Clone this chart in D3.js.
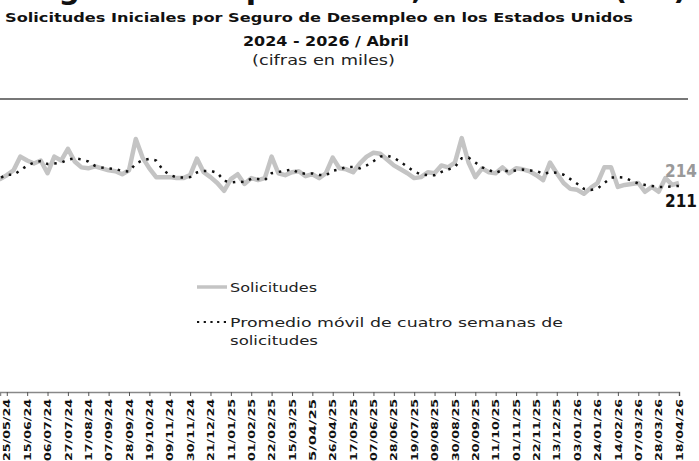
<!DOCTYPE html>
<html>
<head>
<meta charset="utf-8">
<style>
  body { margin: 0; background: #fff; }
  svg { display: block; }
  text { font-family: "DejaVu Sans", sans-serif; }
</style>
</head>
<body>
<svg width="699" height="461"></svg>
<script src="https://d3js.org/d3.v7.min.js"></script>
<script>

    // semanas: la primera es 11/05/24, una por semana
    var primeraSemana = "11/05/24";

    var solicitudes = [222, 218, 222, 227, 241, 237, 234, 237, 224, 241,
        237, 249, 236, 230, 229, 231, 229, 227, 226, 223,
        227, 259, 240, 229, 220, 220, 220, 219, 219, 222,
        239, 225, 220, 214, 206, 218, 223, 213, 219, 217,
        219, 241, 224, 222, 225, 226, 221, 223, 219, 224,
        240, 229, 228, 225, 234, 241, 245, 244, 238, 232,
        228, 224, 219, 220, 225, 224, 232, 230, 235, 260,
        235, 220, 229, 225, 224, 230, 224, 229, 228, 226,
        222, 217, 235, 224, 214, 208, 207, 203, 209, 214,
        230, 230, 210, 212, 213, 214, 205, 210, 205, 219,
        212, 214];

    var promedio = [217, 219, 222.5, 222.3, 227, 231.8, 234.8, 236.5, 233.5, 234,
        234.8, 237.8, 239.5, 238, 236, 231.5, 229.8, 229, 228.3, 226.3,
        225.8, 233.8, 237.3, 238.8, 237, 227.3, 222.3, 219.8, 219.5, 220,
        224.8, 226.3, 226.5, 224.5, 216.3, 214.5, 215.3, 215, 218.3, 218,
        217, 224, 225.3, 226.5, 228, 224.3, 223.5, 223.8, 222.3, 221.8,
        226.5, 228, 230.3, 230.5, 229, 232, 236.3, 241, 242, 239.8,
        235.5, 230.5, 225.8, 222.8, 222, 222, 225.3, 227.8, 230.3, 239.3,
        240, 235, 230, 227.3, 224.5, 227, 225.8, 226.8, 227.8, 226.8,
        226.3, 223.3, 225, 224.5, 222.5, 218, 213.3, 208, 206.8, 208.3,
        214, 219.5, 220, 219.5, 216.3, 213.5, 212, 211, 210, 210,
        210.5, 211];

    var etiquetas = ["25/05/24", "15/06/24", "06/07/24", "27/07/24", "17/08/24", "07/09/24",
        "28/09/24", "19/10/24", "09/11/24", "30/11/24", "21/12/24", "11/01/25",
        "01/02/25", "22/02/25", "15/03/25", "5/04/25", "26/04/25", "17/05/25",
        "07/06/25", "28/06/25", "19/07/25", "09/08/25", "30/08/25", "20/09/25",
        "11/10/25", "01/11/25", "22/11/25", "13/12/25", "03/01/26", "24/01/26",
        "14/02/26", "07/03/26", "28/03/26", "18/04/26"];

    var svg = d3.select("svg");
    var parseDate = d3.timeParse("%d/%m/%y");

    var inicio = parseDate(primeraSemana);
    var data = solicitudes.map(function(v, i) {
        return {date: d3.timeDay.offset(inicio, 7 * i), sol: v, prom: promedio[i]};
    });

    var x = d3.scaleTime()
        .domain([parseDate("18/05/24"), parseDate("18/04/26")])
        .range([0, 679]);

    var y = d3.scaleLinear()
        .domain([0, 300])
        .range([392, 99]);

    // titulo grande (cortado arriba, solo asoman los rasgos descendentes)
    svg.append("text")
        .attr("x", 27).attr("y", -1)
        .attr("font-size", 30).attr("font-weight", "bold")
        .attr("textLength", 660).attr("lengthAdjust", "spacing")
        .attr("fill", "#111")
        .text("Seguro de Desempleo Semanal, Estados Unidos (EUA)");

    svg.append("text")
        .attr("x", 5).attr("y", 22)
        .attr("font-size", 13).attr("font-weight", "bold")
        .attr("textLength", 628).attr("lengthAdjust", "spacingAndGlyphs")
        .attr("fill", "#111")
        .text("Solicitudes Iniciales por Seguro de Desempleo en los Estados Unidos");

    svg.append("text")
        .attr("x", 243).attr("y", 46)
        .attr("font-size", 14).attr("font-weight", "bold")
        .attr("textLength", 166).attr("lengthAdjust", "spacingAndGlyphs")
        .attr("fill", "#111")
        .text("2024 - 2026 / Abril");

    svg.append("text")
        .attr("x", 252).attr("y", 65)
        .attr("font-size", 14)
        .attr("textLength", 143).attr("lengthAdjust", "spacingAndGlyphs")
        .attr("fill", "#222")
        .text("(cifras en miles)");

    // linea superior
    svg.append("line")
        .attr("x1", 0).attr("x2", 688)
        .attr("y1", y(300)).attr("y2", y(300))
        .attr("stroke", "#777")
        .attr("stroke-width", 2);

    var lineSol = d3.line()
        .x(function(d) { return x(d.date); })
        .y(function(d) { return y(d.sol); });

    var lineProm = d3.line()
        .x(function(d) { return x(d.date); })
        .y(function(d) { return y(d.prom); });

    svg.append("path")
        .datum(data)
        .attr("fill", "none")
        .attr("stroke", "#c4c4c4")
        .attr("stroke-width", 4.5)
        .attr("stroke-linejoin", "round")
        .attr("d", lineSol);

    svg.append("path")
        .datum(data)
        .attr("fill", "none")
        .attr("stroke", "#111")
        .attr("stroke-width", 2.5)
        .attr("stroke-dasharray", "2.5,5.8")
        .attr("d", lineProm);

    var ultimo = data[data.length - 1];

    svg.append("text")
        .attr("x", 665).attr("y", 177)
        .attr("font-size", 17).attr("font-weight", "bold")
        .attr("textLength", 32).attr("lengthAdjust", "spacingAndGlyphs")
        .attr("fill", "#999")
        .text(ultimo.sol);

    svg.append("text")
        .attr("x", 665).attr("y", 207)
        .attr("font-size", 17).attr("font-weight", "bold")
        .attr("textLength", 32).attr("lengthAdjust", "spacingAndGlyphs")
        .attr("fill", "#111")
        .text(Math.round(ultimo.prom));

    // leyenda
    var leg = svg.append("g");
    leg.append("line")
        .attr("x1", 197).attr("x2", 227).attr("y1", 287).attr("y2", 287)
        .attr("stroke", "#c4c4c4").attr("stroke-width", 3.5);
    leg.append("text")
        .attr("x", 230).attr("y", 292)
        .attr("font-size", 13)
        .attr("textLength", 87).attr("lengthAdjust", "spacingAndGlyphs")
        .attr("fill", "#222")
        .text("Solicitudes");
    leg.append("line")
        .attr("x1", 197).attr("x2", 227).attr("y1", 322).attr("y2", 322)
        .attr("stroke", "#111").attr("stroke-width", 2.2)
        .attr("stroke-dasharray", "2.2,4.5");
    leg.append("text")
        .attr("x", 230).attr("y", 327)
        .attr("font-size", 13)
        .attr("textLength", 333).attr("lengthAdjust", "spacingAndGlyphs")
        .attr("fill", "#222")
        .text("Promedio móvil de cuatro semanas de");
    leg.append("text")
        .attr("x", 230).attr("y", 345)
        .attr("font-size", 13)
        .attr("textLength", 88).attr("lengthAdjust", "spacingAndGlyphs")
        .attr("fill", "#222")
        .text("solicitudes");

    // eje x
    var tickDates = etiquetas.map(function(s) { return parseDate(s); });

    var xAxis = svg.append("g")
        .attr("transform", "translate(0," + y(0) + ")")
        .call(d3.axisBottom(x)
            .tickValues(tickDates)
            .tickSize(4)
            .tickFormat(function(d, i) { return etiquetas[i]; }));

    xAxis.select(".domain").attr("stroke", "#888").attr("stroke-width", 1.5);
    xAxis.selectAll(".tick line").attr("stroke", "#555");

    xAxis.selectAll("text")
        .attr("y", 0)
        .attr("x", -7)
        .attr("dy", "0.35em")
        .attr("transform", "rotate(-90)")
        .attr("font-family", "DejaVu Sans")
        .attr("font-size", 9)
        .attr("font-weight", "bold")
        .attr("fill", "#111")
        .attr("textLength", 62)
        .attr("lengthAdjust", "spacingAndGlyphs")
        .style("text-anchor", "end");

</script>
</body>
</html>
